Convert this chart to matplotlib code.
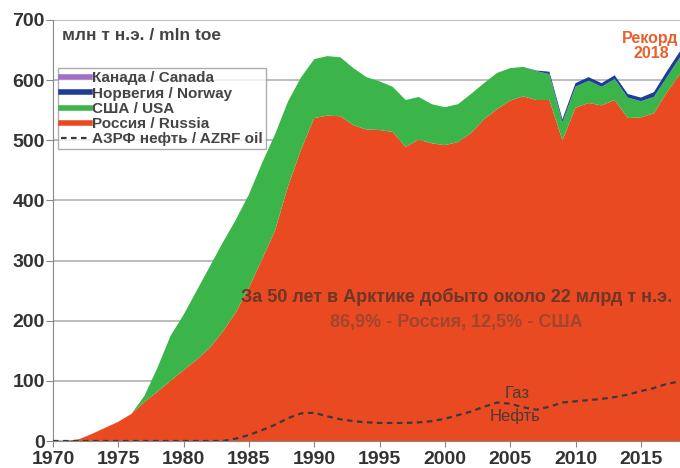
import matplotlib
matplotlib.use("Agg")
import matplotlib.pyplot as plt
from matplotlib.lines import Line2D

plt.rcParams['font.family'] = ['Liberation Sans', 'DejaVu Sans']

years = list(range(1970, 2019))

russia = [0, 0, 3, 12, 22, 32, 45, 65, 82, 100,
          118, 135, 155, 182, 214, 255, 302, 350, 424, 485,
          537, 541, 540, 525, 518, 517, 514, 489, 501, 495,
          492, 497, 512, 535, 552, 566, 573, 567, 567, 500,
          554, 562, 558, 567, 537, 538, 545, 580, 610]

usa = [0, 0, 0, 0, 0, 0, 0, 10, 40, 75,
       92, 115, 135, 148, 154, 155, 160, 160, 141, 120,
       98, 99, 98, 95, 87, 81, 75, 78, 71, 65,
       63, 63, 65, 60, 60, 54, 49, 48, 43, 30,
       35, 37, 31, 35, 34, 27, 27, 25, 28]

norway = [0] * 37 + [1, 4, 5, 6, 6, 6, 6, 6, 6, 8, 10, 10]

canada = [0] * 49

azrf_oil = [0, 0, 0, 0, 0, 0, 0, 0, 0, 0,
            0, 0, 0, 0, 4, 10, 18, 27, 38, 46,
            47, 41, 36, 33, 31, 30, 30, 30, 31, 33,
            37, 43, 49, 57, 64, 62, 56, 52, 57, 64,
            66, 68, 70, 73, 77, 83, 88, 95, 99]

labels = ['Канада / Canada', 'Норвегия / Norway', 'США / USA',
          'Россия / Russia', 'АЗРФ нефть / AZRF oil']
colors = {'canada': '#a070c8', 'norway': '#1f3c9a', 'usa': '#3bb54a',
          'russia': '#ea4a22'}

fig = plt.figure(figsize=(6.8, 4.68), dpi=100)
ax = fig.add_axes([53/680, 1 - 441/468, 1 - 53/680, (441 - 20)/468])

ax.set_axisbelow(True)
ax.yaxis.grid(True, color='#b0b0b0', lw=1.2)
ax.stackplot(years, russia, usa, norway, canada,
             colors=[colors['russia'], colors['usa'], colors['norway'], colors['canada']],
             lw=0, zorder=2)
ax.plot(years, azrf_oil, color='#3a3a3a', lw=1.6, ls=(0, (2.5, 2)), zorder=3)

ax.set_xlim(1970, 2018)
ax.set_ylim(0, 700)
ax.set_xticks(range(1970, 2016, 5))
ax.set_yticks(range(0, 701, 100))
for lbl in ax.get_xticklabels() + ax.get_yticklabels():
    lbl.set_fontsize(14)
    lbl.set_fontweight('bold')
    lbl.set_color('#333333')
ax.tick_params(axis='x', length=4, color='#888888', pad=3)
ax.tick_params(axis='y', length=5, color='#888888', pad=1)
ax.spines['right'].set_visible(False)
ax.spines['top'].set_visible(False)
ax.spines['left'].set_color('#888888')
ax.spines['bottom'].set_color('#888888')

ax.text(0.014, 675, 'млн т н.э. / mln toe', transform=ax.get_yaxis_transform(),
        fontsize=12.5, fontweight='bold', color='#444444', va='center', ha='left')

handles = [Line2D([0], [0], color=colors['canada'], lw=4),
           Line2D([0], [0], color=colors['norway'], lw=4),
           Line2D([0], [0], color=colors['usa'], lw=4),
           Line2D([0], [0], color=colors['russia'], lw=4),
           Line2D([0], [0], color='#3a3a3a', lw=1.6, ls=(0, (2.5, 2)))]
leg = ax.legend(handles, labels, loc='upper left', bbox_to_anchor=(0.008, 0.885),
                frameon=True, fancybox=False, edgecolor='#999999',
                prop={'size': 11, 'weight': 'bold'}, handlelength=1.9,
                handletextpad=0.15, labelspacing=0.08, borderpad=0.2,
                borderaxespad=0)
leg.get_frame().set_linewidth(1.0)
for t in leg.get_texts():
    t.set_color('#444444')

ax.text(2000.9, 240, 'За 50 лет в Арктике добыто около 22 млрд т н.э.',
        fontsize=13, fontweight='bold', color='#6e3628', ha='center', va='center', zorder=5)
ax.text(2000.9, 197, '86,9% - Россия, 12,5% - США',
        fontsize=13, fontweight='bold', color='#a2452c', ha='center', va='center', zorder=5)

ax.text(2005.5, 79, 'Газ', fontsize=12, color='#4a3a35', ha='center', va='center', zorder=5)
ax.text(2005.4, 41, 'Нефть', fontsize=12, color='#4a3a35', ha='center', va='center', zorder=5)

ax.text(0.997, 670, 'Рекорд', transform=ax.get_yaxis_transform(),
        fontsize=11.5, fontweight='bold', color='#e8602c',
        ha='right', va='center', zorder=5)
ax.text(2015.8, 645, '2018', fontsize=11.5, fontweight='bold', color='#e8602c',
        ha='center', va='center', zorder=5)

fig.savefig('out.png', dpi=100)
